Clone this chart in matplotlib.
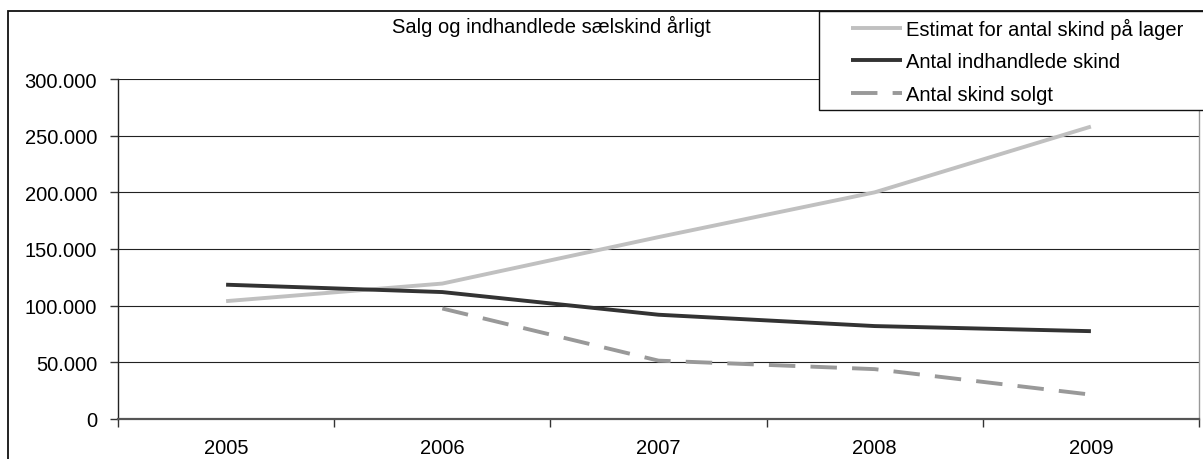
import matplotlib
matplotlib.use("Agg")
import matplotlib.pyplot as plt
from matplotlib.patches import Rectangle
from matplotlib.ticker import FuncFormatter, FixedLocator
import numpy as np

plt.rcParams['font.family'] = ['Liberation Sans', 'DejaVu Sans']

title = "Salg og indhandlede sælskind årligt"
years = ["2005", "2006", "2007", "2008", "2009"]
estimat = [104000, 119500, 160500, 200000, 258000]
indhandlede = [118500, 112000, 92000, 82000, 77500]
solgt_years = ["2006", "2007", "2008", "2009"]
solgt = [97500, 51500, 44000, 21500]
labels = ["Estimat for antal skind på lager", "Antal indhandlede skind", "Antal skind solgt"]
yticks = [0, 50000, 100000, 150000, 200000, 250000, 300000]

FS = 14.5
W, H = 1203, 460
fig = plt.figure(figsize=(W / 100, H / 100), dpi=100)
ax = fig.add_axes([118 / W, 1 - 420 / H, (1199 - 118) / W, (420 - 80) / H])

x_all = np.arange(len(years))
x_solgt = [years.index(y) for y in solgt_years]

l1, = ax.plot(x_all, estimat, color="#c0c0c0", lw=2.8, solid_capstyle="butt", zorder=3)
l2, = ax.plot(x_all, indhandlede, color="#333333", lw=2.8, solid_capstyle="butt", zorder=4)
l3, = ax.plot(x_solgt, solgt, color="#999999", lw=2.8, dashes=(6.8, 3.9), zorder=3)

ax.set_xlim(-0.5, len(years) - 0.5)
ax.set_ylim(0, 300000)
ax.set_xticks(x_all)
ax.set_xticklabels(years)
ax.xaxis.set_minor_locator(FixedLocator(np.arange(-0.5, len(years), 1.0)))
ax.tick_params(axis='x', which='major', length=0, pad=14, labelsize=FS)
ax.tick_params(axis='x', which='minor', length=6, width=1, direction='out', color="#333333")
ax.set_yticks(yticks)
ax.yaxis.set_major_formatter(FuncFormatter(lambda v, p: f"{int(v):,}".replace(",", ".")))
ax.tick_params(axis='y', length=6, width=1, direction='out', pad=9, labelsize=FS, color="#333333")

ax.grid(axis='y', color="#222222", lw=0.8)
ax.set_axisbelow(True)
ax.spines['top'].set_visible(False)
ax.spines['left'].set_color("#222222")
ax.spines['left'].set_linewidth(1.0)
ax.spines['bottom'].set_color("#555555")
ax.spines['bottom'].set_linewidth(1.6)
ax.spines['right'].set_color("#999999")
ax.spines['right'].set_linewidth(1.0)

# outer chart frame
frame = Rectangle((8 / W, -0.2), 1.2, 1 - 12 / H + 0.2, transform=fig.transFigure,
                  fill=False, ec="#111111", lw=1.3, zorder=5)
fig.add_artist(frame)

fig.text(551 / W, 1 - 26 / H, title, ha='center', va='center', fontsize=FS)

# legend box
lbox = Rectangle((819 / W, 1 - 111 / H), 1.0, (111 - 12) / H, transform=fig.transFigure,
                 fc="white", ec="#111111", lw=1.0, zorder=6)
fig.add_artist(lbox)
leg = fig.legend([l1, l2, l3], labels, loc='upper left',
                 bbox_to_anchor=(851 / W, 1 - 18.5 / H), frameon=False, fontsize=FS,
                 handlelength=2.55, handletextpad=0.2, labelspacing=0.68, borderpad=0,
                 borderaxespad=0)
leg.set_zorder(7)

fig.savefig("out.png", dpi=100)
